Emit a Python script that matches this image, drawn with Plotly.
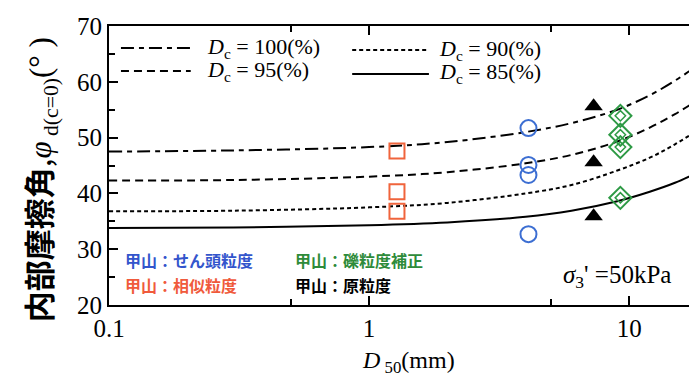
import plotly.graph_objects as go

# --- data ---
# fitted curves (D50 in mm, internal friction angle in degrees)
curve_x = [0.1, 0.3, 1, 2, 4, 6, 9, 12, 15, 19.2]
dc100_y = [47.5, 47.7, 48.3, 49.2, 51.0, 52.6, 55.0, 57.6, 60.2, 63.6]
dc95_y = [42.3, 42.4, 43.0, 43.8, 45.4, 46.9, 49.3, 51.8, 54.2, 57.3]
dc90_y = [36.8, 36.9, 37.5, 38.3, 40.0, 41.5, 44.1, 46.4, 48.8, 51.9]
dc85_y = [33.8, 33.9, 34.3, 34.8, 35.8, 36.9, 38.6, 40.3, 41.9, 44.2]

# measured points
similar_x = [1.28, 1.28, 1.28]          # 甲山：相似粒度
similar_y = [47.6, 40.3, 36.8]
scalp_x = [4.1, 4.1, 4.1, 4.1]          # 甲山：せん頭粒度
scalp_y = [51.7, 45.1, 43.3, 32.7]
original_x = [7.3, 7.3, 7.3]            # 甲山：原粒度
original_y = [55.6, 45.6, 35.9]
gravel_x = [9.25, 9.25, 9.25, 9.25]     # 甲山：礫粒度補正
gravel_y = [53.9, 50.5, 48.3, 39.2]

x_ticks = [0.1, 1, 10]
x_ticklabels = ['0.1', '1', '10']
x_minor = [0.5, 5]

serif = 'Liberation Serif, Times New Roman, serif'
cjk = 'Noto Sans CJK JP'

fig = go.Figure()

# curves
fig.add_trace(go.Scatter(x=curve_x, y=dc100_y, mode='lines', line_shape='spline',
                         line=dict(color='black', width=2, dash='13px,5px,5px,5px')))
fig.add_trace(go.Scatter(x=curve_x, y=dc95_y, mode='lines', line_shape='spline',
                         line=dict(color='black', width=2, dash='8px,5px')))
fig.add_trace(go.Scatter(x=curve_x, y=dc90_y, mode='lines', line_shape='spline',
                         line=dict(color='black', width=2, dash='4px,3px')))
fig.add_trace(go.Scatter(x=curve_x, y=dc85_y, mode='lines', line_shape='spline',
                         line=dict(color='black', width=2)))

# points
fig.add_trace(go.Scatter(x=similar_x, y=similar_y, mode='markers',
                         marker=dict(symbol='square-open', size=15, color='#F0643C',
                                     line=dict(width=2))))
fig.add_trace(go.Scatter(x=scalp_x, y=scalp_y, mode='markers',
                         marker=dict(symbol='circle-open', size=16, color='#3C6ED2',
                                     line=dict(width=2))))
fig.add_trace(go.Scatter(x=original_x, y=original_y, mode='markers',
                         marker=dict(symbol='triangle-up', size=16, color='black')))
fig.add_trace(go.Scatter(x=gravel_x, y=gravel_y, mode='markers',
                         marker=dict(symbol='diamond-open', size=17, color='#2E9A45',
                                     line=dict(width=2))))
fig.add_trace(go.Scatter(x=gravel_x, y=gravel_y, mode='markers',
                         marker=dict(symbol='diamond-open', size=8, color='#2E9A45',
                                     line=dict(width=1.5))))

# plot area in pixels: left 101, right 696, top 18, bottom 297
def px(xp):
    return (xp - 101) / 595.0

def py(yp):
    return (297 - yp) / 279.0

# legend line samples
samples = [
    (113, 183, 40, '13px,5px,5px,5px'),
    (113, 183, 63, '8px,5px'),
    (345, 422, 42, '4px,3px'),
    (345, 422, 66, 'solid'),
]
for x0, x1, yy, dash in samples:
    fig.add_shape(type='line', xref='paper', yref='paper',
                  x0=px(x0), x1=px(x1), y0=py(yy), y1=py(yy),
                  line=dict(color='black', width=2, dash=dash))

anns = [
    (197, 40, '<i>D</i><sub>c</sub> = 100(%)'),
    (197, 63, '<i>D</i><sub>c</sub> = 95(%)'),
    (430, 42, '<i>D</i><sub>c</sub> = 90(%)'),
    (430, 65, '<i>D</i><sub>c</sub> = 85(%)'),
]
for xx, yy, txt in anns:
    fig.add_annotation(x=px(xx), y=py(yy), xref='paper', yref='paper', text=txt,
                       showarrow=False, xanchor='left', yanchor='middle',
                       font=dict(family=serif, size=22, color='black'))

labels = [
    (115, 252, '甲山：せん頭粒度', '#3355CC'),
    (115, 277, '甲山：相似粒度', '#F05A3C'),
    (286, 252, '甲山：礫粒度補正', '#2E8B3A'),
    (286, 277, '甲山：原粒度', 'black'),
]
for xx, yy, txt, col in labels:
    fig.add_annotation(x=px(xx), y=py(yy), xref='paper', yref='paper',
                       text='<b>' + txt + '</b>', showarrow=False,
                       xanchor='left', yanchor='middle',
                       font=dict(family=cjk, size=16, color=col))

fig.add_annotation(x=px(611), y=py(268), xref='paper', yref='paper',
                   text="<i>σ</i><sub>3</sub>' =50kPa", showarrow=False,
                   xanchor='center', yanchor='middle',
                   font=dict(family=serif, size=25, color='black'))

fig.add_annotation(x=px(402), y=py(354), xref='paper', yref='paper',
                   text='<i>D</i><sub> 50</sub>(mm)', showarrow=False,
                   xanchor='center', yanchor='middle',
                   font=dict(family=serif, size=24, color='black'))

fig.add_annotation(x=px(31), y=py(172), xref='paper', yref='paper', textangle=-90,
                   text='<b>内部摩擦角</b>,<span style="font-family:Liberation Serif">'
                        '<i>φ</i><sub> d(c=0)</sub>(° )</span>',
                   showarrow=False, xanchor='center', yanchor='middle',
                   font=dict(family=cjk, size=31, color='black'))

fig.update_layout(
    width=697, height=379,
    margin=dict(l=101, r=1, t=18, b=82),
    plot_bgcolor='white', paper_bgcolor='white',
    font=dict(family=serif, color='black'),
    showlegend=False,
)
fig.update_xaxes(type='log', range=[-1, 1.28],
                 tickvals=x_ticks, ticktext=x_ticklabels,
                 ticks='inside', ticklen=9, tickwidth=1.5, tickcolor='black',
                 minor=dict(tickvals=x_minor, ticks='inside', ticklen=6,
                            tickwidth=1.5, tickcolor='black', showgrid=False),
                 showline=True, linewidth=2, linecolor='black', mirror='ticks',
                 showgrid=False, zeroline=False,
                 tickfont=dict(family=serif, size=25, color='black'))
fig.update_yaxes(range=[20, 70], dtick=10,
                 ticks='inside', ticklen=9, tickwidth=1.5, tickcolor='black',
                 minor=dict(dtick=5, ticks='inside', ticklen=6,
                            tickwidth=1.5, tickcolor='black', showgrid=False),
                 showline=True, linewidth=2, linecolor='black', mirror='ticks',
                 showgrid=False, zeroline=False,
                 tickfont=dict(family=serif, size=25, color='black'))

fig.write_html('out.html')
